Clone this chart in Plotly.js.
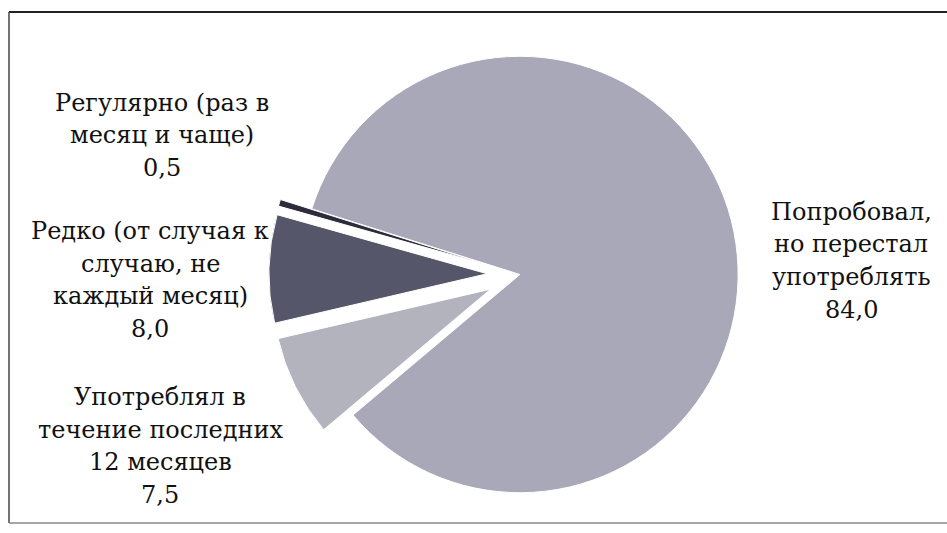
<!DOCTYPE html>
<html>
<head>
<meta charset="utf-8">
<script src="https://cdn.plot.ly/plotly-3.0.1.min.js"></script>
<style>
  html, body { margin: 0; padding: 0; background: #ffffff; }
  #chart { width: 947px; height: 533px; }
</style>
</head>
<body>
<div id="chart"></div>
<script>
// ---- data ----
var categories = [
  "Попробовал,\nно перестал\nупотреблять",
  "Употреблял в\nтечение последних\n12 месяцев",
  "Редко (от случая к\nслучаю, не\nкаждый месяц)",
  "Регулярно (раз в\nмесяц и чаще)"
];
var values = [84.0, 7.5, 8.0, 0.5];

// ---- styling (not data) ----
var colors = ["#a8a8b8", "#b3b3be", "#56566a", "#2c2c3a"];
var pulls = [0, 0.15, 0.15, 0.15];
// label block centres in pixels (x centre, y of first line)
var labelPos = [[851, 212], [160, 397], [150, 231], [162, 103]];
var lineStep = 32.5;
var W = 947, H = 533;
var serif = "DejaVu Serif";

var trace = {
  type: "pie",
  values: values,
  labels: categories.map(function (c) { return c.replace(/\n/g, " "); }),
  sort: false,
  direction: "clockwise",
  rotation: -72.5,
  pull: pulls,
  marker: { colors: colors, line: { color: "#ffffff", width: 1 } },
  textinfo: "none",
  hoverinfo: "label+value",
  showlegend: false,
  domain: { x: [0.284, 0.814], y: [0.012, 0.958] }
};

var annotations = [];
categories.forEach(function (c, i) {
  var lines = c.split("\n");
  lines.push(values[i].toFixed(1).replace(".", ","));
  lines.forEach(function (ln, k) {
    annotations.push({
      xref: "paper", yref: "paper",
      x: labelPos[i][0] / W,
      y: 1 - (labelPos[i][1] + k * lineStep) / H,
      xanchor: "center", yanchor: "middle",
      text: ln, showarrow: false,
      font: { family: serif, size: 24, color: "#111111" }
    });
  });
});

var layout = {
  width: W, height: H,
  margin: { l: 0, r: 0, t: 0, b: 0 },
  paper_bgcolor: "#ffffff",
  plot_bgcolor: "#ffffff",
  font: { family: serif },
  annotations: annotations,
  shapes: [
    { type: "line", xref: "paper", yref: "paper", x0: 9 / W, x1: 1, y0: 1 - 12 / H, y1: 1 - 12 / H, line: { color: "#222222", width: 2 } },
    { type: "line", xref: "paper", yref: "paper", x0: 9 / W, x1: 9 / W, y0: 1 - 12 / H, y1: 1 - 523 / H, line: { color: "#444444", width: 1.5 } },
    { type: "line", xref: "paper", yref: "paper", x0: 9 / W, x1: 1, y0: 1 - 523 / H, y1: 1 - 523 / H, line: { color: "#888888", width: 1.5 } }
  ]
};

Plotly.newPlot("chart", [trace], layout, { staticPlot: true, displayModeBar: false });
</script>
</body>
</html>
